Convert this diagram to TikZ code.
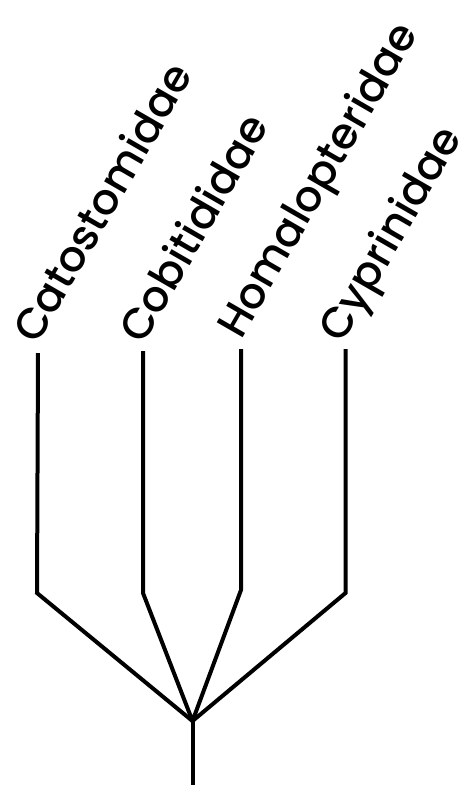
\documentclass[tikz,border=0pt]{standalone}
\usepackage{fontspec}
\setmainfont{Poppins}
\newfontfamily\taxonfont{Poppins Medium}
\usepackage{tikz}

\begin{document}
\begin{tikzpicture}[x=1pt,y=1pt]
	\tikzstyle{every node}+=[inner sep=0pt]
	\tikzstyle{branch}=[line width=4pt, line join=miter]
	\tikzstyle{taxon}=[rotate=60, anchor=base west, font=\taxonfont\fontsize{43}{48}\selectfont]
	\useasboundingbox (0,0) rectangle (473,-785);
	% stem, fork and the four legs
	\coordinate (root) at (192.5,-785);
	\coordinate (fork) at (192.5,-721);
	\coordinate (catoBend) at (37,-593);
	\coordinate (catoTip) at (38,-353);
	\coordinate (cobiBend) at (143,-593);
	\coordinate (cobiTip) at (143,-351);
	\coordinate (homaBend) at (241,-590);
	\coordinate (homaTip) at (241,-349);
	\coordinate (cypiBend) at (345.5,-593);
	\coordinate (cypiTip) at (345.5,-349);
	\draw [branch] (root) -- (fork);
	\draw [branch] (catoTip) -- (catoBend) -- (fork) -- (cypiBend) -- (cypiTip);
	\draw [branch] (cobiTip) -- (cobiBend) -- (fork) -- (homaBend) -- (homaTip);
	% family names
	\node [taxon] (cato) at ([xshift=-1pt,yshift=7pt]catoTip) {Catostomidae};
	\node [taxon] (cobi) at ([xshift=0pt,yshift=5pt]cobiTip) {Cobitididae};
	\node [taxon] (homa) at ([xshift=0pt,yshift=8pt]homaTip) {Homalopteridae};
	\node [taxon] (cypi) at ([xshift=-3pt,yshift=4pt]cypiTip) {Cyprinidae};
\end{tikzpicture}
\end{document}
